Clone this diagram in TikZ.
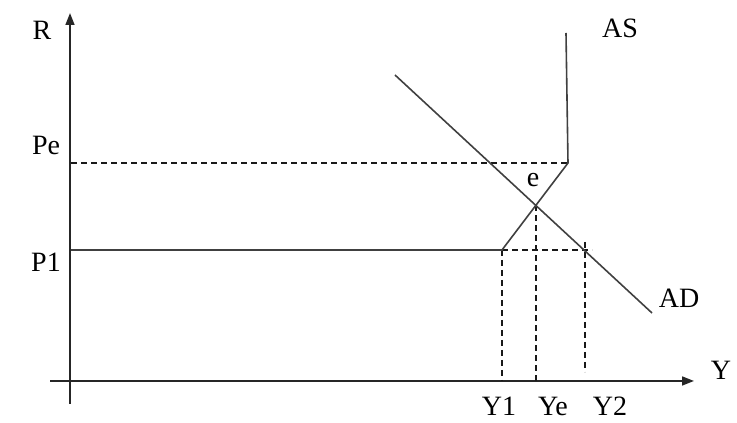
\documentclass[tikz,border=0pt]{standalone}
\usepackage{fontspec}
\setmainfont{Liberation Serif}
\usetikzlibrary{arrows.meta}
\begin{document}
\begin{tikzpicture}[x=1pt,y=1pt,
  axis/.style={line width=1.7pt,black!85,-{Triangle[length=12pt,width=9pt]}},
  curve/.style={line width=1.6pt,black!75},
  guide/.style={line width=1.3pt,black!90,dash pattern=on 6pt off 4pt},
  lab/.style={font=\fontsize{28}{31}\selectfont,inner sep=0pt}]
\useasboundingbox (0,0) rectangle (737,423);
% axes
\coordinate (yb) at (70,19);
\coordinate (yt) at (70,410);
\coordinate (xl) at (50,42);
\coordinate (xr) at (694,42);
\draw[axis] (yb) -- (yt);
\draw[axis] (xl) -- (xr);
% key points
\coordinate (pe0) at (71,260);
\coordinate (p10) at (71,173);
\coordinate (a1) at (502,173);
\coordinate (a2) at (568,260);
\coordinate (a3) at (566,390);
\coordinate (d1) at (395,348);
\coordinate (d2) at (652,110);
\coordinate (e) at (intersection of a1--a2 and d1--d2);
\coordinate (y1b) at (502,42);
\coordinate (yeb) at (e |- xl);
\coordinate (y2t) at (585,181);
\coordinate (y2b) at (585,51);
\coordinate (p1r) at (592,173);
% guides
\draw[guide] (pe0) -- (a2);
\draw[guide] (a1) -- (y1b);
\draw[guide] (e) -- (yeb);
\draw[guide] (a1) -- (p1r);
\draw[guide] (y2t) -- (y2b);
% curves
\draw[curve] (p10) -- (a1) -- (a2) -- (a3);
\draw[curve] (d1) -- (d2);
% labels
\node[lab] (lR) at (42,393) {R};
\node[lab] (lY) at (721,53) {Y};
\node[lab] (lPe) at (46,278) {Pe};
\node[lab] (lP1) at (46,161) {P1};
\node[lab] (lY1) at (499,17) {Y1};
\node[lab] (lYe) at (553,17) {Ye};
\node[lab] (lY2) at (610,17) {Y2};
\node[lab] (lAS) at (620,395) {AS};
\node[lab] (lAD) at (679,125) {AD};
\node[lab] (le) at (533,243) {e};
\end{tikzpicture}
\end{document}
